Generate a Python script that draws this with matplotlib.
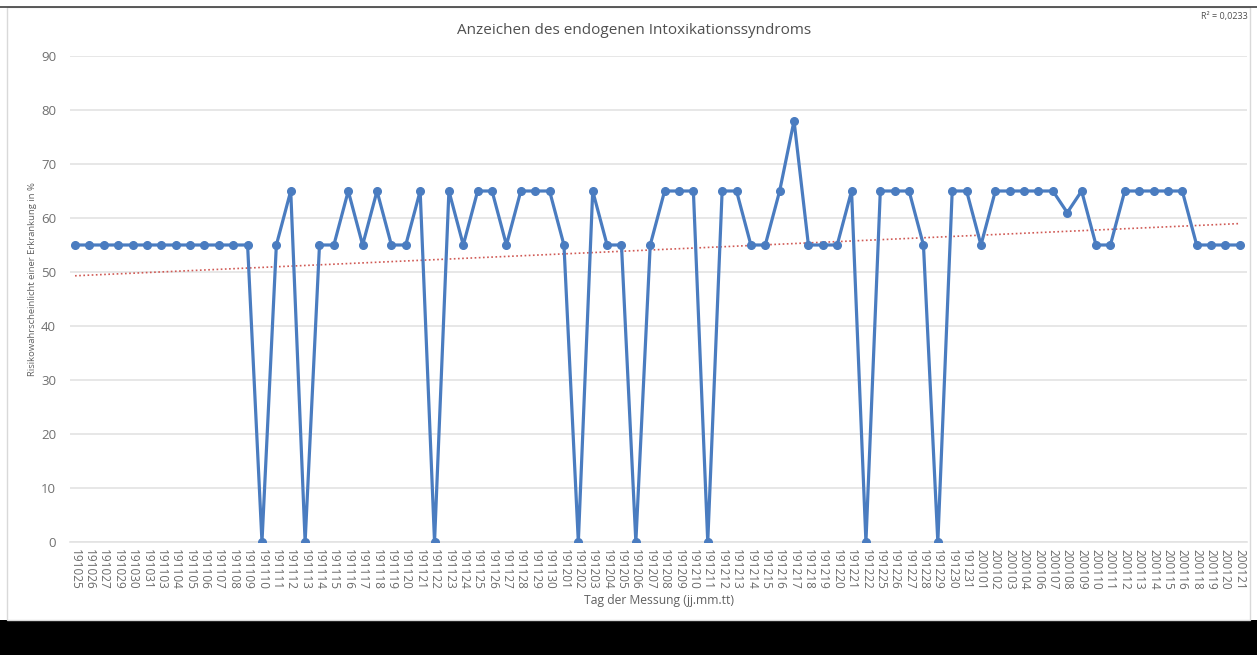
import numpy as np
import matplotlib
matplotlib.use("Agg")
import matplotlib.pyplot as plt
from matplotlib.patches import Rectangle

plt.rcParams['font.family'] = ['Open Sans', 'DejaVu Sans']

days = ["191025", "191026", "191027", "191029", "191030", "191031",
        "191103", "191104", "191105", "191106", "191107", "191108", "191109",
        "191110", "191111", "191112", "191113", "191114", "191115", "191116",
        "191117", "191118", "191119", "191120", "191121", "191122", "191123",
        "191124", "191125", "191126", "191127", "191128", "191129", "191130",
        "191201", "191202", "191203", "191204", "191205", "191206", "191207",
        "191208", "191209", "191210", "191211", "191212", "191213", "191214",
        "191215", "191216", "191217", "191218", "191219", "191220", "191221",
        "191222", "191225", "191226", "191227", "191228", "191229", "191230",
        "191231", "200101", "200102", "200103", "200104", "200106", "200107",
        "200108", "200109", "200110", "200111", "200112", "200113", "200114",
        "200115", "200116", "200118", "200119", "200120", "200121"]

risk = [55, 55, 55, 55, 55, 55,
        55, 55, 55, 55, 55, 55, 55,
        0, 55, 65, 0, 55, 55, 65,
        55, 65, 55, 55, 65, 0, 65,
        55, 65, 65, 55, 65, 65, 65,
        55, 0, 65, 55, 55, 0, 55,
        65, 65, 65, 0, 65, 65, 55,
        55, 65, 78, 55, 55, 55, 65,
        0, 65, 65, 65, 55, 0, 65,
        65, 55, 65, 65, 65, 65, 65,
        61, 65, 55, 55, 65, 65, 65,
        65, 65, 55, 55, 55, 55]

W, H = 1257, 655
fig = plt.figure(figsize=(W / 100, H / 100), dpi=100)
fig.patch.set_facecolor('white')

# black band at the bottom and the frame of the chart
fig.patches.append(Rectangle((0, 0), 1, 35 / H, transform=fig.transFigure,
                             facecolor='black', edgecolor='none'))
fig.patches.append(Rectangle((7 / W, 35 / H), 1243 / W, 613 / H,
                             transform=fig.transFigure, facecolor='none',
                             edgecolor='#d9d9d9', lw=1))
fig.add_artist(plt.Line2D([0, 1], [1 - 7 / H, 1 - 7 / H], transform=fig.transFigure,
                          color='#404040', lw=1.2))

ax = fig.add_axes([70 / W, 1 - 542 / H, (1247 - 70) / W, (542 - 56) / H])
x = np.arange(len(days))

ax.plot(x, risk, color='#4a7cc0', lw=2.3, marker='o', ms=5.5, zorder=3)

# linear trend line (Excel style)
m, b = np.polyfit(x, risk, 1)
xt = np.array([x[0], x[-1]])
ax.plot(xt, m * xt + b, color='#d05a55', lw=1.2, ls=(0, (1, 1.5)), zorder=2)

ax.set_ylim(0, 90)
ax.set_yticks(range(0, 91, 10))
ax.set_xlim(-0.35, len(days) - 0.5)
ax.set_xticks(x)
ax.set_xticklabels(days, rotation=-90, fontsize=8.5, color='#6a6a6a')
ax.tick_params(axis='y', labelsize=9.5, labelcolor='#707070', length=0, pad=10)
ax.tick_params(axis='x', length=0, pad=5)
ax.grid(axis='y', color='#e3e3e3', lw=1.2)
ax.set_axisbelow(True)
for s in ['top', 'right', 'left']:
    ax.spines[s].set_visible(False)
ax.spines['bottom'].set_color('#e3e3e3')
ax.spines['bottom'].set_linewidth(1.2)

ax.set_ylabel("Risikowahrscheinlicht einer Erkrankung in %", fontsize=6.8,
              color='#606060')
ax.yaxis.set_label_coords(-33 / (1247 - 70), 0.54)
ax.set_xlabel("Tag der Messung (jj.mm.tt)", fontsize=8.7, color='#606060',
              labelpad=3)

fig.text(634 / W, 1 - 30 / H, "Anzeichen des endogenen Intoxikationssyndroms",
         ha='center', va='center', fontsize=11, color='#505050')
fig.text(1248 / W, 1 - 17 / H, "R² = 0,0233", ha='right', va='center',
         fontsize=6.5, color='#505050')

fig.savefig("out.png", dpi=100)
